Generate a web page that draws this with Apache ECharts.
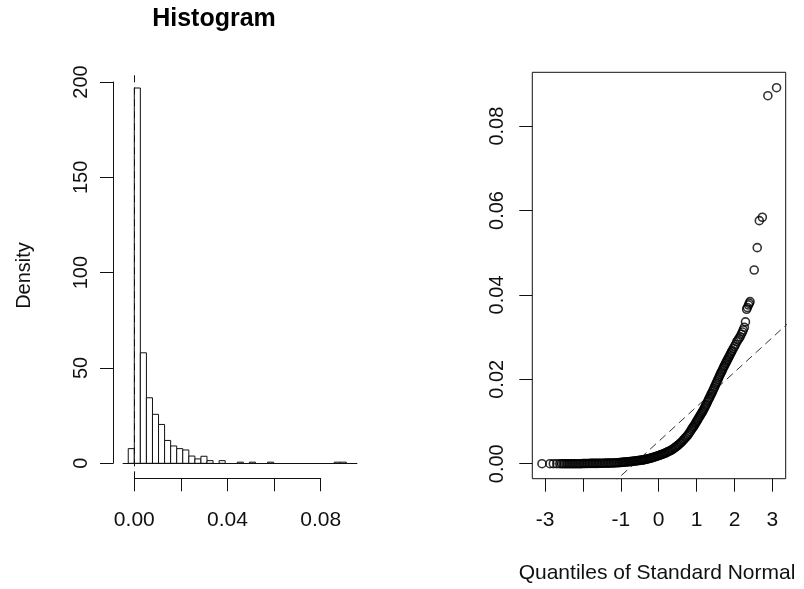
<!DOCTYPE html>
<html>
<head>
<meta charset="utf-8">
<script src="https://cdn.jsdelivr.net/npm/echarts@6.0.0/dist/echarts.min.js"></script>
<style>
  html, body { margin: 0; padding: 0; background: #fff; }
  #chart { width: 804px; height: 589px; }
</style>
</head>
<body>
<div id="chart"></div>
<script>
// Histogram of the series (density scale), equal-width bins
const histBinStart = -0.0026;
const histBinWidth = 0.0026;
const histDensity = [
  7.7, 197, 58, 34.4, 25.7, 20.4, 12, 9.1, 7.7, 7, 3.8, 2.3,
  3.7, 1.4, 0, 1.4, 0, 0, 0.6, 0, 0.6, 0, 0, 0.6,
  0, 0, 0, 0, 0, 0, 0, 0, 0, 0, 0.6, 0.6
];
const histXTicks = [0, 0.02, 0.04, 0.06, 0.08];
const histXLabels = [0, 0.04, 0.08];
const histYTicks = [0, 50, 100, 150, 200];

// Normal Q-Q plot: [theoretical quantile, sample value]
const qqPoints = [
  [-3.08, 0], [-2.87, 0], [-2.78, 0], [-2.69, 0], [-2.61, 0], [-2.56, 0], [-2.52, 0], [-2.48, 0],
  [-2.44, 0], [-2.40, 0], [-2.36, 0], [-2.32, 0], [-2.28, 0], [-2.24, 0], [-2.20, 0], [-2.16, 0],
  [-2.12, 0], [-2.08, 0], [-2.04, 0], [-2.00, 0.00005], [-1.96, 0.00005], [-1.92, 0.00005],
  [-1.88, 0.00006], [-1.84, 0.00006], [-1.80, 0.00007], [-1.76, 0.00007], [-1.72, 0.00008],
  [-1.68, 0.00008], [-1.64, 0.00009], [-1.60, 0.00009], [-1.56, 0.0001], [-1.52, 0.0001],
  [-1.48, 0.00011], [-1.44, 0.00012], [-1.40, 0.00013], [-1.36, 0.00014], [-1.32, 0.00015],
  [-1.28, 0.00016], [-1.24, 0.00017], [-1.20, 0.00018], [-1.16, 0.0002], [-1.12, 0.00022],
  [-1.08, 0.00024], [-1.04, 0.00026], [-1.00, 0.0003], [-0.97, 0.00032], [-0.94, 0.00035],
  [-0.91, 0.00037], [-0.88, 0.0004], [-0.85, 0.00042], [-0.82, 0.00045], [-0.79, 0.00048],
  [-0.76, 0.0005], [-0.73, 0.00053], [-0.70, 0.00056], [-0.67, 0.0006], [-0.64, 0.00063],
  [-0.61, 0.00066], [-0.58, 0.0007], [-0.55, 0.00073], [-0.52, 0.00077], [-0.49, 0.0008],
  [-0.46, 0.00084], [-0.43, 0.00088], [-0.40, 0.00092], [-0.37, 0.00098], [-0.34, 0.00105],
  [-0.31, 0.0011], [-0.28, 0.00117], [-0.25, 0.00124], [-0.22, 0.0013], [-0.19, 0.00138],
  [-0.16, 0.00146], [-0.13, 0.00154], [-0.10, 0.00163], [-0.07, 0.00172], [-0.04, 0.00181],
  [-0.01, 0.0019], [0.02, 0.002], [0.05, 0.0021], [0.08, 0.0022], [0.11, 0.0023], [0.14, 0.0024],
  [0.17, 0.0025], [0.20, 0.0026], [0.23, 0.0028], [0.26, 0.0029], [0.29, 0.0030], [0.32, 0.0032],
  [0.35, 0.0033], [0.38, 0.0035], [0.41, 0.0037], [0.44, 0.0039], [0.47, 0.0041], [0.50, 0.0043],
  [0.53, 0.0045], [0.56, 0.0048], [0.59, 0.0050], [0.62, 0.0053], [0.65, 0.0056], [0.68, 0.0059],
  [0.71, 0.0062], [0.74, 0.0065], [0.77, 0.0068], [0.80, 0.0072], [0.83, 0.0076], [0.86, 0.0080],
  [0.88, 0.0083], [0.90, 0.0086], [0.92, 0.0088], [0.94, 0.0091], [0.96, 0.0094], [0.98, 0.0097],
  [1.00, 0.0100], [1.02, 0.0103], [1.04, 0.0106], [1.06, 0.0109], [1.08, 0.0112], [1.10, 0.0115],
  [1.12, 0.0118], [1.14, 0.0121], [1.16, 0.0124], [1.18, 0.0127], [1.20, 0.0131], [1.22, 0.0134],
  [1.24, 0.0138], [1.26, 0.0141], [1.28, 0.0145], [1.30, 0.0149], [1.32, 0.0153], [1.34, 0.0156],
  [1.36, 0.0160], [1.38, 0.0164], [1.40, 0.0167], [1.42, 0.0171], [1.44, 0.0175], [1.46, 0.0179],
  [1.48, 0.0183], [1.50, 0.0187], [1.52, 0.0191], [1.54, 0.0195], [1.56, 0.0199], [1.58, 0.0203],
  [1.60, 0.0207], [1.62, 0.0211], [1.64, 0.0215], [1.66, 0.0218], [1.68, 0.0222], [1.70, 0.0226],
  [1.72, 0.0230], [1.74, 0.0233], [1.76, 0.0237], [1.78, 0.0240], [1.80, 0.0244], [1.82, 0.0247],
  [1.84, 0.0251], [1.86, 0.0254], [1.88, 0.0258], [1.90, 0.0261], [1.92, 0.0265], [1.94, 0.0268],
  [1.97, 0.0273], [2.00, 0.0278], [2.03, 0.0283], [2.06, 0.0289], [2.09, 0.0293], [2.12, 0.0297],
  [2.15, 0.0301], [2.18, 0.0307], [2.21, 0.0312], [2.23, 0.0317], [2.26, 0.0323], [2.29, 0.0336],
  [2.32, 0.0366], [2.34, 0.0370], [2.37, 0.0376], [2.39, 0.0380], [2.41, 0.0384], [2.52, 0.0459],
  [2.60, 0.0512], [2.655, 0.0576], [2.735, 0.0584], [2.88, 0.0872], [3.11, 0.0891]
];
// Reference line: mean + sd * quantile
const sampleMean = 0.0053;
const sampleSd = 0.0082;
const qqLineQuantiles = [-2, 3.6];
const qqXTicks = [-3, -2, -1, 0, 1, 2, 3];
const qqXLabels = [-3, -1, 0, 1, 2, 3];
const qqYTicks = [0, 0.02, 0.04, 0.06, 0.08];

const FONT = 'Liberation Sans, Arial, sans-serif';
const INK = '#111';

const histRects = histDensity
  .map((d, i) => [histBinStart + i * histBinWidth, histBinStart + (i + 1) * histBinWidth, d])
  .filter(r => r[2] > 0);
const qqLine = qqLineQuantiles.map(q => [q, sampleMean + sampleSd * q]);

const chart = echarts.init(document.getElementById('chart'), null, { renderer: 'canvas' });

const hiddenAxis = (extra) => Object.assign({
  type: 'value', show: false, splitLine: { show: false }, axisLine: { onZero: false }
}, extra);

chart.setOption({
  animation: false,
  backgroundColor: '#fff',
  textStyle: { fontFamily: FONT },
  grid: [
    { left: 122.7, top: 73, width: 234.6, height: 405.3 },          // histogram plot region
    { left: 134.3, top: 477.3, width: 186.4, height: 1 },           // histogram x axis
    { left: 113, top: 82, width: 1, height: 381.3 },                // histogram y axis
    { left: 532.3, top: 72.3, width: 253.4, height: 406.4,          // Q-Q plot region (boxed)
      show: true, borderColor: INK, borderWidth: 1, backgroundColor: 'transparent' }
  ],
  xAxis: [
    hiddenAxis({ gridIndex: 0, min: -0.004979, max: 0.09571 }),
    {
      type: 'value', gridIndex: 1, position: 'bottom', min: 0, max: 0.08, interval: 0.02,
      splitLine: { show: false },
      axisLine: { show: true, onZero: false, lineStyle: { color: INK, width: 1 } },
      axisTick: { show: true, inside: false, length: 13, customValues: histXTicks, lineStyle: { color: INK } },
      axisLabel: { customValues: histXLabels, margin: 31, fontSize: 21, color: INK, fontFamily: FONT,
        formatter: v => v.toFixed(2) }
    },
    hiddenAxis({ gridIndex: 2, min: 0, max: 1 }),
    {
      type: 'value', gridIndex: 3, position: 'bottom', min: -3.335, max: 3.351,
      splitLine: { show: false },
      axisLine: { show: false, onZero: false },
      axisTick: { show: true, inside: false, length: 13, customValues: qqXTicks, lineStyle: { color: INK } },
      axisLabel: { customValues: qqXLabels, margin: 31, fontSize: 21, color: INK, fontFamily: FONT,
        formatter: v => String(v) }
    }
  ],
  yAxis: [
    hiddenAxis({ gridIndex: 0, min: -7.874, max: 204.88 }),
    hiddenAxis({ gridIndex: 1, min: 0, max: 1 }),
    {
      type: 'value', gridIndex: 2, position: 'left', min: 0, max: 200, interval: 50,
      splitLine: { show: false },
      axisLine: { show: true, onZero: false, lineStyle: { color: INK, width: 1 } },
      axisTick: { show: true, inside: false, length: 13, customValues: histYTicks, lineStyle: { color: INK } },
      axisLabel: { customValues: histYTicks, rotate: 90, margin: 22, fontSize: 20, color: INK, fontFamily: FONT }
    },
    {
      type: 'value', gridIndex: 3, position: 'left', min: -0.00355, max: 0.09275,
      splitLine: { show: false },
      axisLine: { show: false, onZero: false },
      axisTick: { show: true, inside: false, length: 13, customValues: qqYTicks, lineStyle: { color: INK } },
      axisLabel: { customValues: qqYTicks, rotate: 90, margin: 25, fontSize: 20, color: INK, fontFamily: FONT,
        formatter: v => v.toFixed(2) }
    }
  ],
  graphic: [
    { type: 'text', x: 214, y: 19, style: { text: 'Histogram', font: 'bold 25px ' + FONT,
      fill: '#000', textAlign: 'center', textVerticalAlign: 'middle' } },
    { type: 'text', x: 24, y: 275.5, rotation: Math.PI / 2, style: { text: 'Density', font: '20px ' + FONT,
      fill: INK, textAlign: 'center', textVerticalAlign: 'middle' } },
    { type: 'text', x: 657, y: 573, style: { text: 'Quantiles of Standard Normal', font: '21px ' + FONT,
      fill: INK, textAlign: 'center', textVerticalAlign: 'middle' } }
  ],
  series: [
    {
      type: 'custom',
      xAxisIndex: 0, yAxisIndex: 0,
      data: histRects,
      renderItem: (params, api) => {
        const p0 = api.coord([api.value(0), api.value(2)]);
        const p1 = api.coord([api.value(1), 0]);
        return {
          type: 'rect',
          shape: { x: p0[0], y: p0[1], width: p1[0] - p0[0], height: p1[1] - p0[1] },
          style: { fill: '#fff', stroke: INK, lineWidth: 1 }
        };
      },
      markLine: {
        silent: true, symbol: 'none', label: { show: false },
        data: [
          { yAxis: 0, lineStyle: { color: INK, width: 1, type: 'solid' } },
          { xAxis: 0, lineStyle: { color: INK, width: 1, type: [7, 5] } }
        ]
      },
      z: 2
    },
    {
      type: 'scatter',
      xAxisIndex: 3, yAxisIndex: 3,
      data: qqPoints,
      symbol: 'circle',
      symbolSize: 8,
      itemStyle: { color: 'rgba(0,0,0,0)', borderColor: '#000', borderWidth: 1.6 },
      emphasis: { disabled: true },
      z: 3
    },
    {
      type: 'line',
      xAxisIndex: 3, yAxisIndex: 3,
      data: qqLine,
      symbol: 'none',
      clip: true,
      lineStyle: { color: '#333', width: 1, type: [8, 5] },
      z: 2
    }
  ]
});
</script>
</body>
</html>
